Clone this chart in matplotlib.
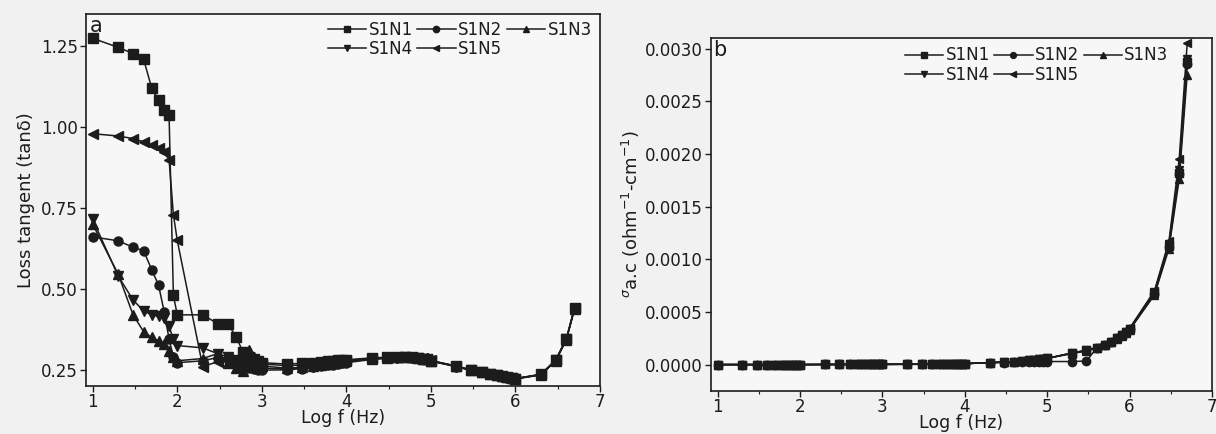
import matplotlib
matplotlib.use("Agg")
import matplotlib.pyplot as plt
from matplotlib.ticker import MultipleLocator, FormatStrFormatter

# ---------------- data ----------------
log_f = [1.000, 1.301, 1.477, 1.602, 1.699, 1.778, 1.845, 1.903, 1.954,
         2.000, 2.301, 2.477, 2.602, 2.699, 2.778, 2.845, 2.903, 2.954,
         3.000, 3.301, 3.477, 3.602, 3.699, 3.778, 3.845, 3.903, 3.954,
         4.000, 4.301, 4.477, 4.602, 4.699, 4.778, 4.845, 4.903, 4.954,
         5.000, 5.301, 5.477, 5.602, 5.699, 5.778, 5.845, 5.903, 5.954,
         6.000, 6.301, 6.477, 6.602, 6.699]

series_names = ["S1N1", "S1N2", "S1N3", "S1N4", "S1N5"]
series_markers = ["s", "o", "^", "v", "<"]

tan_S1N1 = [1.275, 1.247, 1.228, 1.210, 1.120, 1.083, 1.052, 1.037, 0.480,
            0.420, 0.420, 0.393, 0.392, 0.350, 0.305, 0.290, 0.282, 0.277,
            0.272, 0.268, 0.270, 0.272, 0.274, 0.276, 0.278, 0.279, 0.280,
            0.281, 0.287, 0.289, 0.290, 0.290, 0.289, 0.287, 0.285, 0.282,
            0.278, 0.262, 0.250, 0.243, 0.238, 0.234, 0.230, 0.227, 0.225,
            0.223, 0.236, 0.280, 0.345, 0.440]
tan_S1N2 = [0.661, 0.649, 0.629, 0.618, 0.559, 0.512, 0.430, 0.345, 0.290,
            0.272, 0.278, 0.288, 0.283, 0.272, 0.262, 0.256, 0.252, 0.250,
            0.249, 0.250, 0.254, 0.258, 0.261, 0.264, 0.266, 0.268, 0.270,
            0.272, 0.282, 0.286, 0.288, 0.289, 0.288, 0.286, 0.284, 0.281,
            0.277, 0.260, 0.248, 0.242, 0.237, 0.233, 0.229, 0.226, 0.224,
            0.222, 0.235, 0.280, 0.345, 0.440]
tan_S1N3 = [0.700, 0.546, 0.420, 0.368, 0.350, 0.340, 0.330, 0.308, 0.290,
            0.278, 0.285, 0.300, 0.272, 0.255, 0.245, 0.310, 0.290, 0.275,
            0.262, 0.255, 0.258, 0.262, 0.266, 0.269, 0.271, 0.273, 0.275,
            0.277, 0.284, 0.287, 0.289, 0.290, 0.289, 0.287, 0.285, 0.282,
            0.278, 0.261, 0.249, 0.243, 0.238, 0.234, 0.230, 0.227, 0.225,
            0.223, 0.235, 0.278, 0.343, 0.438]
tan_S1N4 = [0.715, 0.540, 0.466, 0.432, 0.420, 0.415, 0.410, 0.384, 0.345,
            0.325, 0.318, 0.300, 0.290, 0.280, 0.272, 0.266, 0.262, 0.258,
            0.255, 0.253, 0.256, 0.260, 0.264, 0.267, 0.270, 0.272, 0.274,
            0.276, 0.283, 0.286, 0.288, 0.289, 0.288, 0.286, 0.284, 0.281,
            0.277, 0.260, 0.248, 0.242, 0.237, 0.233, 0.229, 0.226, 0.224,
            0.222, 0.234, 0.279, 0.344, 0.439]
tan_S1N5 = [0.980, 0.973, 0.965, 0.955, 0.944, 0.935, 0.922, 0.900, 0.730,
            0.650, 0.260, 0.275, 0.285, 0.280, 0.290, 0.285, 0.278, 0.272,
            0.268, 0.263, 0.265, 0.268, 0.270, 0.273, 0.275, 0.277, 0.278,
            0.279, 0.286, 0.288, 0.290, 0.291, 0.290, 0.288, 0.286, 0.283,
            0.279, 0.261, 0.249, 0.243, 0.238, 0.234, 0.230, 0.227, 0.225,
            0.223, 0.236, 0.281, 0.346, 0.441]

sig_S1N1 = [0.000001, 0.000001, 0.000001, 0.000001, 0.000001, 0.000001, 0.000001, 0.000001, 0.000001,
            0.000001, 0.000002, 0.000002, 0.000002, 0.000002, 0.000002, 0.000002, 0.000002, 0.000003,
            0.000003, 0.000004, 0.000004, 0.000005, 0.000005, 0.000006, 0.000006, 0.000007, 0.000007,
            0.000010, 0.000020, 0.000025, 0.000030, 0.000035, 0.000040, 0.000045, 0.000050, 0.000055,
            0.000060, 0.000110, 0.000135, 0.000160, 0.000190, 0.000220, 0.000250, 0.000280, 0.000310,
            0.000340, 0.000680, 0.001130, 0.001820, 0.002870]
sig_S1N2 = [0.000001, 0.000001, 0.000001, 0.000001, 0.000001, 0.000001, 0.000001, 0.000001, 0.000001,
            0.000001, 0.000002, 0.000002, 0.000002, 0.000002, 0.000002, 0.000002, 0.000002, 0.000003,
            0.000003, 0.000004, 0.000004, 0.000005, 0.000005, 0.000006, 0.000006, 0.000007, 0.000007,
            0.000010, 0.000018, 0.000020, 0.000022, 0.000024, 0.000025, 0.000026, 0.000027, 0.000028,
            0.000030, 0.000030, 0.000035, 0.000160, 0.000190, 0.000220, 0.000250, 0.000280, 0.000310,
            0.000335, 0.000670, 0.001120, 0.001810, 0.002850]
sig_S1N3 = [0.000001, 0.000001, 0.000001, 0.000001, 0.000001, 0.000001, 0.000001, 0.000001, 0.000001,
            0.000001, 0.000002, 0.000002, 0.000002, 0.000002, 0.000002, 0.000002, 0.000002, 0.000003,
            0.000003, 0.000004, 0.000004, 0.000005, 0.000005, 0.000006, 0.000006, 0.000007, 0.000007,
            0.000010, 0.000020, 0.000025, 0.000030, 0.000035, 0.000040, 0.000045, 0.000050, 0.000055,
            0.000060, 0.000105, 0.000130, 0.000155, 0.000185, 0.000215, 0.000245, 0.000275, 0.000305,
            0.000330, 0.000660, 0.001100, 0.001760, 0.002750]
sig_S1N4 = [0.000001, 0.000001, 0.000001, 0.000001, 0.000001, 0.000001, 0.000001, 0.000001, 0.000001,
            0.000001, 0.000002, 0.000002, 0.000002, 0.000002, 0.000002, 0.000002, 0.000002, 0.000003,
            0.000003, 0.000004, 0.000004, 0.000005, 0.000005, 0.000006, 0.000006, 0.000007, 0.000007,
            0.000010, 0.000020, 0.000025, 0.000030, 0.000035, 0.000040, 0.000045, 0.000050, 0.000055,
            0.000060, 0.000110, 0.000135, 0.000160, 0.000190, 0.000220, 0.000250, 0.000280, 0.000310,
            0.000340, 0.000690, 0.001150, 0.001850, 0.002900]
sig_S1N5 = [0.000001, 0.000001, 0.000001, 0.000001, 0.000001, 0.000001, 0.000001, 0.000001, 0.000001,
            0.000001, 0.000002, 0.000002, 0.000002, 0.000002, 0.000002, 0.000002, 0.000002, 0.000003,
            0.000003, 0.000004, 0.000004, 0.000005, 0.000005, 0.000006, 0.000006, 0.000007, 0.000007,
            0.000010, 0.000020, 0.000025, 0.000030, 0.000035, 0.000040, 0.000045, 0.000050, 0.000055,
            0.000060, 0.000112, 0.000138, 0.000165, 0.000195, 0.000225, 0.000255, 0.000285, 0.000315,
            0.000345, 0.000700, 0.001170, 0.001950, 0.003050]

tan_series = [tan_S1N1, tan_S1N2, tan_S1N3, tan_S1N4, tan_S1N5]
sig_series = [sig_S1N1, sig_S1N2, sig_S1N3, sig_S1N4, sig_S1N5]

# ---------------- style ----------------
plt.rcParams['font.family'] = ['DejaVu Sans']
INK = '#1c1c1c'
BG = '#f1f1f1'
AXBG = '#f7f7f7'

fig = plt.figure(figsize=(12.16, 4.34), dpi=100, facecolor=BG)
ax_a = fig.add_axes([0.0707, 0.1106, 0.4227, 0.857])
ax_b = fig.add_axes([0.5847, 0.0990, 0.4120, 0.8134])


def style_axes(ax):
    ax.set_facecolor(AXBG)
    for s in ax.spines.values():
        s.set_color(INK)
        s.set_linewidth(1.2)
    ax.tick_params(axis='both', which='major', direction='out', length=4,
                   width=1.0, colors=INK, labelsize=12, pad=2)
    ax.tick_params(axis='x', which='minor', direction='out', length=2.5,
                   width=0.8, colors=INK)
    ax.tick_params(axis='x', which='major', pad=1)
    ax.tick_params(top=False, right=False)
    ax.xaxis.set_major_locator(MultipleLocator(1))
    ax.xaxis.set_minor_locator(MultipleLocator(0.5))
    ax.set_xlim(0.92, 7.0)


def add_legend(ax, handles, anchor):
    order = [0, 3, 1, 4, 2]
    leg = ax.legend([handles[i] for i in order], [series_names[i] for i in order],
                    ncol=3, loc='upper right', bbox_to_anchor=anchor,
                    frameon=False, fontsize=12, handlelength=2.3,
                    handletextpad=0.15, columnspacing=0.25, labelspacing=0.1,
                    borderaxespad=0.1, markerscale=0.7)
    for t in leg.get_texts():
        t.set_color(INK)
    return leg


# Panel a
handles_a = []
for vals, mk in zip(tan_series, series_markers):
    h, = ax_a.plot(log_f, vals, marker=mk, color=INK, lw=1.1, ms=6.5,
                   mfc=INK, mec=INK)
    handles_a.append(h)
style_axes(ax_a)
ax_a.set_ylim(0.20, 1.35)
ax_a.yaxis.set_major_locator(MultipleLocator(0.25))
ax_a.yaxis.set_major_formatter(FormatStrFormatter('%.2f'))
ax_a.set_xlabel('Log f (Hz)', fontsize=12.5, color=INK, labelpad=-1.5)
ax_a.set_ylabel('Loss tangent (tan\u03b4)', fontsize=13, color=INK, labelpad=4)
ax_a.text(0.008, 0.995, 'a', transform=ax_a.transAxes, ha='left', va='top',
          fontsize=15, color=INK)
add_legend(ax_a, handles_a, (1.0, 1.005))

# Panel b
handles_b = []
for vals, mk in zip(sig_series, series_markers):
    h, = ax_b.plot(log_f, vals, marker=mk, color=INK, lw=1.1, ms=6,
                   mfc=INK, mec=INK)
    handles_b.append(h)
style_axes(ax_b)
ax_b.set_ylim(-0.00025, 0.0031)
ax_b.yaxis.set_major_locator(MultipleLocator(0.0005))
ax_b.yaxis.set_major_formatter(FormatStrFormatter('%.4f'))
ax_b.set_xlabel('Log f (Hz)', fontsize=12.5, color=INK, labelpad=-1.5)
ax_b.set_ylabel(r'$^{\sigma}$a.c (ohm$^{-1}$-cm$^{-1}$)', fontsize=13,
                color=INK, labelpad=2)
ax_b.text(0.005, 0.995, 'b', transform=ax_b.transAxes, ha='left', va='top',
          fontsize=15, color=INK)
add_legend(ax_b, handles_b, (0.93, 1.0))

fig.savefig('out.png', dpi=100, facecolor=BG)
